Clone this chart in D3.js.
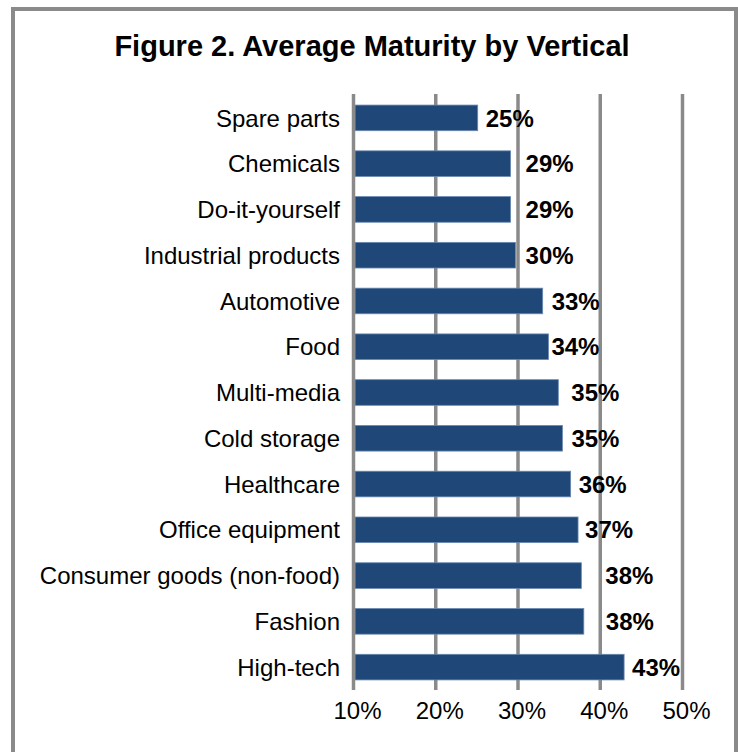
<!DOCTYPE html>
<html>
<head>
<meta charset="utf-8">
<script src="https://cdn.jsdelivr.net/npm/d3@7"></script>
<style>
  html, body { margin: 0; padding: 0; background: #fff; }
  svg { display: block; font-family: "Liberation Sans", Arial, Helvetica, sans-serif; }
</style>
</head>
<body>
<svg id="chart" width="738" height="752"></svg>
<script>
// Verticals, top to bottom
const categories = [
  "Spare parts", "Chemicals", "Do-it-yourself", "Industrial products",
  "Automotive", "Food", "Multi-media", "Cold storage", "Healthcare",
  "Office equipment", "Consumer goods (non-food)", "Fashion", "High-tech"
];
// Average maturity, percent
const maturity = [25.1, 29.1, 29.1, 29.7, 33.0, 33.7, 34.9, 35.4, 36.4, 37.3, 37.7, 38.0, 42.9];
// Value axis ticks, percent
const ticks = [10, 20, 30, 40, 50];
// Extra spacing (px) between each bar end and its value label
const labelGap = [8, 15, 15, 10, 9, 3, 13, 9, 8, 7, 24, 22, 8];

const svg = d3.select("#chart");

// Outer frame
svg.append("rect")
  .attr("x", 13).attr("y", 9)
  .attr("width", 723).attr("height", 780)
  .attr("fill", "none")
  .attr("stroke", "#8a8a8a")
  .attr("stroke-width", 4);

// Title
svg.append("text")
  .attr("x", 372).attr("y", 56)
  .attr("text-anchor", "middle")
  .attr("font-size", 29)
  .attr("font-weight", "bold")
  .attr("fill", "#000")
  .text("Figure 2. Average Maturity by Vertical");

const x = d3.scaleLinear().domain([10, 50]).range([353.5, 682.5]);
const y = d3.scaleBand().domain(categories).range([95, 690])
  .paddingInner(0.44).paddingOuter(0.22);

const data = categories.map((c, i) => ({ cat: c, v: maturity[i], gap: labelGap[i] }));

// Vertical gridlines
svg.append("g").selectAll("line")
  .data(ticks.slice(1))
  .join("line")
  .attr("x1", d => x(d)).attr("x2", d => x(d))
  .attr("y1", 94).attr("y2", 690)
  .attr("stroke", "#8a8a8a")
  .attr("stroke-width", 3.5);

// Bars
svg.append("g").selectAll("rect")
  .data(data)
  .join("rect")
  .attr("x", x(10) + 1.5)
  .attr("y", d => y(d.cat))
  .attr("width", d => x(d.v) - x(10) - 1.5)
  .attr("height", y.bandwidth())
  .attr("fill", "#1f4878")
  .attr("stroke", "#6a88b0")
  .attr("stroke-width", 0.8);

// Category axis line (10%)
svg.append("line")
  .attr("x1", x(10)).attr("x2", x(10))
  .attr("y1", 94).attr("y2", 690)
  .attr("stroke", "#8a8a8a")
  .attr("stroke-width", 3.5);

// Category labels
svg.append("g").selectAll("text")
  .data(data)
  .join("text")
  .attr("x", 340)
  .attr("y", d => y(d.cat) + y.bandwidth() / 2)
  .attr("dy", "0.36em")
  .attr("text-anchor", "end")
  .attr("font-size", 24)
  .attr("fill", "#000")
  .text(d => d.cat);

// Value labels
svg.append("g").selectAll("text")
  .data(data)
  .join("text")
  .attr("x", d => x(d.v) + d.gap)
  .attr("y", d => y(d.cat) + y.bandwidth() / 2)
  .attr("dy", "0.36em")
  .attr("font-size", 24)
  .attr("font-weight", "bold")
  .attr("fill", "#000")
  .text(d => Math.round(d.v) + "%");

// Tick labels
svg.append("g").selectAll("text")
  .data(ticks)
  .join("text")
  .attr("x", d => x(d) + 4)
  .attr("y", 719)
  .attr("text-anchor", "middle")
  .attr("font-size", 24)
  .attr("fill", "#000")
  .text(d => d + "%");
</script>
</body>
</html>
